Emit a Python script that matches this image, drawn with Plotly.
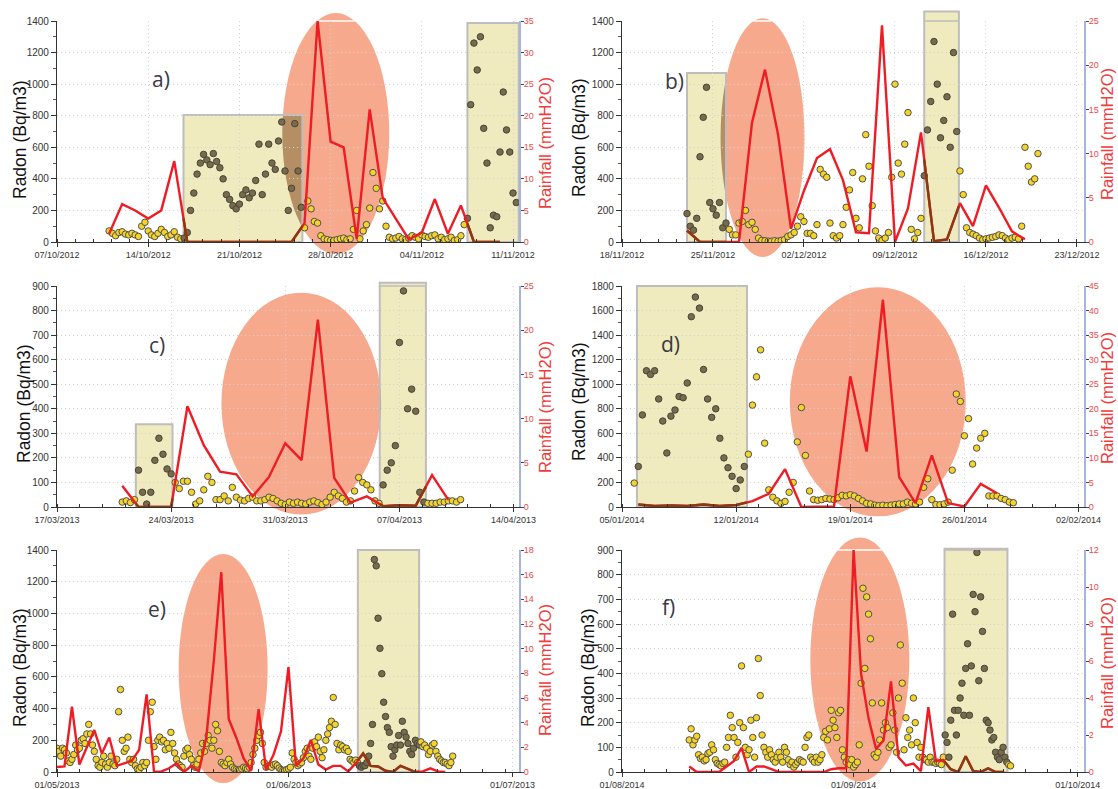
import numpy as np
import pandas as pd
import plotly.graph_objects as go

# ---------------- DATA ----------------
# Radon (Bq/m3), 6-hourly samples
radon_a_start = "2012-10-11 00:00"
radon_a = [70, 55, 40, 60, 65, 50, 45, 55, 45, 35, 100, 125, 70, 45, 35, 55, 80, 60, 35, 45,
           65, 30, 20, 25, 60, 200, 310, 430, 500, 555, 520, 490, 560, 510, 470, 400,
           300, 270, 230, 210, 240, 300, 330, 280, 310, 390, 620, 300, 430, 620, 500, 460,
           640, 760, 450, 200, 340, 750, 450, 220, 90, 260, 210, 130, 120, 40, 20, 15,
           10, 10, 15, 20, 25, 15, 20, 80, 200, 20, 70, 110, 215, 440, 340, 210,
           260, 100, 30, 20, 25, 35, 20, 15, 25, 40, 30, 20, 45, 35, 30, 40, 45, 20, 30, 15,
           20, 30, 10, 15, 40, 110, 150, 870, 1260, 1090, 1300, 720, 500, 90, 170, 160,
           570, 950, 710, 570, 310, 250]
radon_b_start = "2012-11-23 00:00"
radon_b = [180, 100, 75, 150, 540, 790, 980, 250, 210, 170, 250, 90, 120, 80, 45, 45,
           120, 130, 200, 110, 125, 80, 25, 10, 8, 5, 5, 8, 5, 10, 15, 35, 45, 60, 100, 160,
           130, 55, 55, 40, 110, 460, 430, 410, 120, 40, 25, 40, 110, 220, 330, 440,
           150, 90, 400, 680, 480, 230, 70, 25, 10, 25, 60, 410, 1000, 500, 430, 620,
           820, 80, 20, 60, 150, 420, 710, 890, 1270, 1000, 660, 770, 920, 600, 1200, 700,
           450, 300, 90, 60, 50, 40, 25, 15, 20, 25, 30, 35, 45, 40, 25, 15, 25, 30, 20, 100,
           600, 480, 380, 400, 560]
radon_c_start = "2013-03-21 00:00"
radon_c = [20, 25, 18, 30, 150, 60, 12, 60, 190, 280, 215, 155, 135, 100, 75, 105,
           105, 60, 12, 25, 70, 125, 100, 30, 30, 45, 25, 80, 40, 28, 25, 35, 40, 25, 25, 30,
           40, 35, 25, 15, 10, 20, 15, 20, 15, 12, 20, 25, 18, 10, 20, 40, 60, 45, 35, 20,
           25, 65, 120, 100, 90, 70, 25, 15, 90, 150, 180, 250, 670, 880, 400, 480,
           390, 60, 20, 15, 15, 15, 20, 20, 25, 25, 20, 30]
radon_d_start = "2014-01-05 18:00"
radon_d = [195, 330, 750, 1110, 1080, 1110, 880, 700, 440, 740, 790, 900, 890,
           1010, 1550, 1710, 1620, 1120, 880, 730, 800, 560, 400, 320, 250, 150, 220, 330, 430,
           830, 1060, 1280, 520, 140, 80, 50, 30, 45, 120, 200, 530, 810, 420, 130, 60,
           55, 60, 70, 65, 60, 75, 95, 90, 100, 90, 70, 50, 30, 25, 15, 10, 15, 10, 15, 20,
           25, 25, 40, 30, 25, 40, 160, 230, 60, 20, 18, 25, 40, 300, 920, 860,
           580, 720, 350, 480, 560, 600, 90, 90, 90, 70, 60, 40, 35]
radon_e_start = "2013-05-01 00:00"
radon_e = [150, 130, 100, 150, 140, 120, 70, 60, 80, 110, 170, 140, 150, 200, 210, 180,
           240, 300, 240, 170, 130, 80, 40, 30, 60, 100, 50, 30, 60, 100, 50, 40,
           80, 380, 520, 200, 130, 150, 220, 80, 60, 80, 40, 20, 15, 30, 60, 40,
           60, 200, 380, 440, 160, 80, 200, 220, 190, 200, 140, 180, 150, 250, 180, 120,
           80, 50, 40, 30, 100, 140, 150, 110, 80, 40, 30, 50, 80, 120, 180, 130,
           180, 230, 200, 150, 200, 300, 260, 130, 60, 50, 40, 60, 80, 50, 30, 20,
           15, 10, 15, 20, 30, 25, 20, 30, 60, 110, 150, 200, 230, 250, 180, 60,
           30, 35, 40, 30, 45, 50, 40, 25, 15, 10, 10, 15, 20, 30, 120, 80,
           60, 40, 50, 60, 90, 130, 150, 100, 80, 150, 190, 160, 220, 130, 90, 140,
           200, 240, 280, 320, 470, 300, 180, 140, 170, 160, 140, 150, 130, 80, 70, 60,
           75, 60, 40, 30, 40, 40, 60, 100, 180, 300, 1340, 1300, 970, 780, 620, 440,
           350, 280, 250, 160, 100, 140, 170, 230, 170, 320, 250, 220, 180, 130, 110, 150,
           200, 180, 170, 190, 160, 170, 150, 110, 130, 170, 180, 130, 100, 80, 70, 60,
           60, 50, 40, 60, 100]
radon_f_start = "2014-08-10 00:00"
radon_f = [130, 175, 110, 130, 145, 70, 55, 60, 45, 50, 75, 80, 110, 90, 50, 35,
           30, 25, 35, 40, 100, 140, 230, 180, 140, 60, 120, 200, 430, 180, 100, 70,
           90, 210, 140, 60, 220, 460, 310, 150, 100, 80, 60, 90, 70, 50, 40, 60,
           80, 60, 40, 100, 80, 50, 30, 40, 20, 30, 40, 50, 45, 40, 100, 140,
           150, 60, 50, 40, 60, 40, 50, 70, 140, 165, 130, 175, 250, 210, 180, 140,
           240, 250, 90, 60, 40, 50, 30, 50, 20, 30, 40, 110, 360, 745, 420, 710,
           640, 540, 280, 70, 60, 80, 130, 280, 170, 200, 180, 100, 110, 240, 170, 80,
           300, 515, 360, 90, 220, 140, 170, 110, 300, 200, 120, 60, 100, 60, 50, 50,
           40, 60, 40, 40, 35, 40, 35, 30, 60, 150, 120, 60, 210, 640, 250, 150,
           250, 300, 360, 230, 420, 520, 230, 430, 720, 650, 890, 370, 710, 570, 420, 210,
           200, 170, 130, 140, 80, 60, 50, 80, 100, 60, 40, 30, 25]

# Daily rainfall (mmH2O)
rain_a_start = "2012-10-11"
rain_a = [1.3, 6.0, 5.0, 3.7, 5.0, 12.8, 0, 0, 0, 0, 0, 0, 0, 0, 0, 3.0, 35.0, 15.9, 15.0,
          0.5, 21.0, 7.0, 3.8, 0.4, 1.5, 6.8, 1.3, 5.8, 0, 0, 0]
rain_b_start = "2012-11-23"
rain_b = [1.3, 0, 0, 0, 0, 13.5, 19.5, 12.2, 1.5, 5.8, 9.5, 10.5, 7.0, 1.1, 1.0, 24.5, 0,
          3.8, 12.4, 0.1, 0.3, 4.4, 1.8, 6.4, 3.9, 1.2, 0.3]
rain_c_start = "2013-03-21"
rain_c = [2.4, 0, 0, 0, 11.4, 7.0, 4.0, 3.7, 1.2, 3.4, 7.2, 5.3, 21.2, 3.3, 0.5, 1.2,
          0.1, 0.2, 0.15, 3.6, 0.8]
rain_d_start = "2014-01-06"
rain_d = [0.5, 0.2, 0.3, 0.2, 0.5, 0.2, 0.4, 1.2, 2.7, 7.7, 0, 0, 0.1, 26.6, 11.3, 42.2,
          6.1, 0.8, 10.5, 0.8, 0.1, 4.7, 2.8]
rain_e_start = "2013-05-01"
rain_e = [0.4, 0.45, 5.3, 0.6, 2.0, 3.4, 1.5, 2.8, 0.5, 0.7, 0.9, 1.8, 6.3, 0, 0.05, 0.3,
          0.7, 0, 0.5, 0.05, 2.8, 9.0, 16.2, 4.3, 2.8, 1.1, 0.1, 5.1, 0.2, 1.4, 3.3, 8.5,
          0.5, 1.1, 2.6, 0.6, 0.2, 0.5, 0.5, 0.05, 0.7, 1.5, 0.5, 0.45, 0.1, 0, 0.5, 0.25,
          0, 0.05, 0.3, 0.05, 0]
rain_f_start = "2014-08-10"
rain_f = [0.3, 0, 0, 0, 0, 0.3, 0.6, 1.3, 0, 0.3, 0.3, 0.15, 0, 0, 0, 0, 0, 0, 0, 0.15,
          0.2, 0.2, 12.0, 5.3, 2.9, 1.25, 1.7, 4.9, 0.8, 0.35, 0.45, 0.05, 3.5, 0.6, 0.65,
          0.15, 0, 0.85, 0.05, 0, 0.2, 0, 0]

panel_labels = ["a)", "b)", "c)", "d)", "e)", "f)"]
left_title = "Radon (Bq/m3)"
right_title = "Rainfall (mmH2O)"

# ---------------- PANEL SETTINGS (ranges, highlight regions, title pixel spots) ----------------
DAY = 86400000
WEEK = 7 * DAY
panels = [
    dict(radon=radon_a, rs=radon_a_start, rain=rain_a, ps=rain_a_start,
         x0="2012-10-07", x1="2012-11-11 11:00", dtick=WEEK, mdtick=WEEK / 5,
         ymax=1400, ydt=200, rmax=35, rdt=5, lab=("2012-10-15 00:00", 1030),
         lt=(20, 140), rtl=(545, 143),
         ell=[("2012-10-24 07:00", "2012-11-01 12:00", -75, 1450)],
         rect=[("2012-10-16 17:00", "2012-10-25 20:00", 805),
               ("2012-11-07 12:00", "2012-11-11 10:30", 1387)]),
    dict(radon=radon_b, rs=radon_b_start, rain=rain_b, ps=rain_b_start,
         x0="2012-11-18", x1="2012-12-23 13:00", dtick=WEEK, mdtick=WEEK / 5,
         ymax=1400, ydt=200, rmax=25, rdt=5, lab=("2012-11-22 00:00", 1020),
         lt=(579, 138), rtl=(1107, 134),
         ell=[("2012-11-25 14:00", "2012-12-02 01:00", -95, 1417)],
         rect=[("2012-11-23 00:00", "2012-11-26 00:00", 1070),
               ("2012-12-11 06:00", "2012-12-13 22:00", 1460)]),
    dict(radon=radon_c, rs=radon_c_start, rain=rain_c, ps=rain_c_start,
         x0="2013-03-17", x1="2013-04-14 08:00", dtick=WEEK, mdtick=WEEK / 5,
         ymax=900, ydt=100, rmax=25, rdt=5, lab=("2013-03-23 03:00", 660),
         lt=(24, 404), rtl=(545, 407),
         ell=[("2013-03-27 02:00", "2013-04-05 21:00", -31, 873)],
         rect=[("2013-03-21 20:00", "2013-03-24 02:00", 337),
               ("2013-04-05 19:00", "2013-04-08 15:00", 913)]),
    dict(radon=radon_d, rs=radon_d_start, rain=rain_d, ps=rain_d_start,
         x0="2014-01-05", x1="2014-02-02 08:00", dtick=WEEK, mdtick=WEEK / 5,
         ymax=1800, ydt=200, rmax=45, rdt=5, lab=("2014-01-08 00:00", 1330),
         lt=(579, 402), rtl=(1107, 398),
         ell=[("2014-01-15 07:00", "2014-01-26 02:00", -76, 1789)],
         rect=[("2014-01-05 22:00", "2014-01-12 16:00", 1800)]),
    dict(radon=radon_e, rs=radon_e_start, rain=rain_e, ps=rain_e_start,
         x0="2013-05-01", x1="2013-07-01 21:00", dtick="M1", mdtick=3 * DAY,
         ymax=1400, ydt=200, rmax=18, rdt=2, lab=("2013-05-14 08:00", 1027),
         lt=(20, 668), rtl=(545, 670),
         ell=[("2013-05-17 07:00", "2013-05-29 05:00", -70, 1375)],
         rect=[("2013-06-10 07:00", "2013-06-18 12:00", 1400)]),
    dict(radon=radon_f, rs=radon_f_start, rain=rain_f, ps=rain_f_start,
         x0="2014-08-01", x1="2014-10-01 20:00", dtick="M1", mdtick=3 * DAY,
         ymax=900, ydt=100, rmax=12, rdt=2, lab=("2014-08-07 05:00", 669),
         lt=(588, 668), rtl=(1107, 663),
         ell=[("2014-08-26 05:00", "2014-09-08 11:00", -39, 951)],
         rect=[("2014-09-13 04:00", "2014-09-21 14:00", 905)]),
]

W, H = 1118, 789
cols = [(57, 519), (622, 1084)]
rows = [(21, 242), (286, 507), (550, 772)]

YELLOW = "#f5d42a"
OLIVE = "#776b4b"
RED = "#ee1c25"
BROWN = "#8a3a12"
SALMON = "#f6a98c"
KHAKI = "#f0ebbe"
OVERLAP = "#b58f63"
GRID = "#d2d2d2"
FONT = "Liberation Sans"


def clip_poly(poly, xmin, xmax, ymin, ymax):
    def clip(pts, inside, inter):
        out = []
        if not pts:
            return out
        prev = pts[-1]
        for cur in pts:
            if inside(cur):
                if not inside(prev):
                    out.append(inter(prev, cur))
                out.append(cur)
            elif inside(prev):
                out.append(inter(prev, cur))
            prev = cur
        return out

    def ix(xc):
        return lambda p, q: (xc, p[1] + (q[1] - p[1]) * (xc - p[0]) / (q[0] - p[0]))

    def iy(yc):
        return lambda p, q: (p[0] + (q[0] - p[0]) * (yc - p[1]) / (q[1] - p[1]), yc)

    pts = clip(poly, lambda p: p[0] >= xmin, ix(xmin))
    pts = clip(pts, lambda p: p[0] <= xmax, ix(xmax))
    pts = clip(pts, lambda p: p[1] >= ymin, iy(ymin))
    pts = clip(pts, lambda p: p[1] <= ymax, iy(ymax))
    return pts


def ms(t):
    return pd.Timestamp(t).value / 1e6


fig = go.Figure()
shapes = []
annotations = []
layout = {}

for i, p in enumerate(panels):
    n = i + 1
    xid = "x" if n == 1 else f"x{n}"
    xkey = "xaxis" if n == 1 else f"xaxis{n}"
    ln, rn = 2 * i + 1, 2 * i + 2
    ylid = "y" if ln == 1 else f"y{ln}"
    ylkey = "yaxis" if ln == 1 else f"yaxis{ln}"
    yrid, yrkey = f"y{rn}", f"yaxis{rn}"
    r, c = divmod(i, 2)
    xd = [cols[c][0] / W, cols[c][1] / W]
    yd = [1 - rows[r][1] / H, 1 - rows[r][0] / H]

    X0, X1 = ms(p["x0"]), ms(p["x1"])

    def fx(t):
        return (ms(t) - X0) / (X1 - X0)

    ymax = p["ymax"]

    # radon points
    rt = pd.date_range(p["rs"], periods=len(p["radon"]), freq="6h")
    rtm = np.array([t.value / 1e6 for t in rt])
    inrect = np.zeros(len(rt), dtype=bool)
    for (a, b, top) in p["rect"]:
        inrect |= (rtm >= ms(a)) & (rtm <= ms(b))
    fill = [OLIVE if f else YELLOW for f in inrect]
    edge = ["#48443a" if f else "#505050" for f in inrect]
    fig.add_trace(go.Scatter(x=rt, y=p["radon"], mode="markers", xaxis=xid, yaxis=ylid,
                             marker=dict(size=6.5, color=fill, line=dict(color=edge, width=1)),
                             showlegend=False, hoverinfo="skip"))

    # rainfall line
    pt = pd.date_range(p["ps"], periods=len(p["rain"]), freq="D")
    ptm = np.array([t.value / 1e6 for t in pt])
    fig.add_trace(go.Scatter(x=pt, y=p["rain"], mode="lines", xaxis=xid, yaxis=yrid,
                             line=dict(color=RED, width=2.4), showlegend=False, hoverinfo="skip"))
    for (a, b, top) in p["rect"]:
        ra, rb = ms(a), ms(b)
        lo, hi = max(ra, ptm[0]), min(rb, ptm[-1])
        if lo >= hi:
            continue
        xs = [lo] + list(ptm[(ptm > lo) & (ptm < hi)]) + [hi]
        ys = np.interp(xs, ptm, np.array(p["rain"], dtype=float))
        fig.add_trace(go.Scatter(x=pd.to_datetime(xs, unit="ms"), y=ys, mode="lines",
                                 xaxis=xid, yaxis=yrid, line=dict(color=BROWN, width=2.4),
                                 showlegend=False, hoverinfo="skip"))

    # highlight shapes (domain coordinates)
    xr, yr = f"{xid} domain", f"{ylid} domain"
    for (a, b, y0, y1) in p["ell"]:
        shapes.append(dict(type="circle", xref=xr, yref=yr, x0=fx(a), x1=fx(b),
                           y0=y0 / ymax, y1=y1 / ymax, fillcolor=SALMON, line=dict(width=0),
                           layer="below"))
    for (a, b, top) in p["rect"]:
        shapes.append(dict(type="rect", xref=xr, yref=yr, x0=fx(a), x1=fx(b), y0=0,
                           y1=top / ymax, fillcolor=KHAKI, line=dict(width=0), layer="below"))
    for (ea, eb, ey0, ey1) in p["ell"]:
        cx, cy = (fx(ea) + fx(eb)) / 2, (ey0 + ey1) / 2 / ymax
        ax_, by_ = (fx(eb) - fx(ea)) / 2, (ey1 - ey0) / 2 / ymax
        th = np.linspace(0, 2 * np.pi, 240, endpoint=False)
        poly = [(cx + ax_ * np.cos(t), cy + by_ * np.sin(t)) for t in th]
        for (a, b, top) in p["rect"]:
            pts = clip_poly(poly, fx(a), fx(b), 0, top / ymax)
            if len(pts) > 2:
                path = "M " + " L ".join(f"{u:.5f},{v:.5f}" for u, v in pts) + " Z"
                shapes.append(dict(type="path", xref=xr, yref=yr, path=path,
                                   fillcolor=OVERLAP, line=dict(width=0), layer="below"))
        if ey1 > ymax:
            dx = ax_ * np.sqrt(max(0.0, 1 - ((1 - cy) / by_) ** 2))
            shapes.append(dict(type="line", xref=xr, yref=yr, x0=cx - dx, x1=cx + dx, y0=1, y1=1,
                               line=dict(color="white", width=1.5), layer="below"))
    for (a, b, top) in p["rect"]:
        shapes.append(dict(type="rect", xref=xr, yref=yr, x0=fx(a), x1=fx(b), y0=0,
                           y1=top / ymax, fillcolor="rgba(0,0,0,0)",
                           line=dict(color="#bdbdbd", width=2), layer="below"))
        if top > ymax:
            shapes.append(dict(type="line", xref=xr, yref=yr, x0=fx(a), x1=fx(b), y0=1, y1=1,
                               line=dict(color="#bdbdbd", width=1.5), layer="below"))

    annotations.append(dict(text=panel_labels[i], x=p["lab"][0], y=p["lab"][1], xref=xid,
                            yref=ylid, showarrow=False,
                            font=dict(family="Open Sans", size=21, color="#3a3a44")))
    annotations.append(dict(text=left_title, x=p["lt"][0] / W, y=1 - p["lt"][1] / H,
                            xref="paper", yref="paper", textangle=-90, showarrow=False,
                            xanchor="center", yanchor="middle",
                            font=dict(family=FONT, size=17.5, color="#111111")))
    annotations.append(dict(text=right_title, x=p["rtl"][0] / W, y=1 - p["rtl"][1] / H,
                            xref="paper", yref="paper", textangle=-90, showarrow=False,
                            xanchor="center", yanchor="middle",
                            font=dict(family=FONT, size=16.5, color="#f03c3c")))

    layout[xkey] = dict(type="date", range=[p["x0"], p["x1"]], domain=xd, anchor=ylid,
                        automargin=False,
                        tick0=p["x0"], dtick=p["dtick"], tickformat="%d/%m/%Y",
                        showline=True, linecolor="#333333", linewidth=1.2, ticks="outside",
                        ticklen=4, tickcolor="#333333",
                        tickfont=dict(family=FONT, size=9, color="#333333"),
                        showgrid=True, gridcolor=GRID, griddash="1px,3px", gridwidth=1,
                        zeroline=False,
                        minor=dict(ticks="inside", ticklen=3, dtick=p["mdtick"], tick0=p["x0"],
                                   tickcolor="#333333", showgrid=False))
    layout[ylkey] = dict(domain=yd, anchor=xid, range=[0, ymax], dtick=p["ydt"], tick0=0,
                         automargin=False,
                         showline=True, linecolor="#333333", linewidth=1.2, ticks="outside",
                         ticklen=5, tickcolor="#333333",
                         tickfont=dict(family=FONT, size=10, color="#333333"),
                         showgrid=True, gridcolor=GRID, griddash="1px,3px", gridwidth=1,
                         zeroline=False,
                         minor=dict(ticks="outside", ticklen=3, dtick=p["ydt"] / 2,
                                    tickcolor="#555555", showgrid=False))
    layout[yrkey] = dict(overlaying=ylid, side="right", anchor=xid, range=[0, p["rmax"]],
                         automargin=False,
                         dtick=p["rdt"], tick0=0, showgrid=False, zeroline=False,
                         showline=True, linecolor="#a9b3dc", linewidth=2, ticks="outside",
                         ticklen=3, tickcolor="#2f43a0", ticklabelstandoff=-2,
                         tickfont=dict(family=FONT, size=9, color="#f04848"))

fig.update_layout(template="none", width=W, height=H, margin=dict(l=0, r=0, t=0, b=0),
                  autosize=False,
                  paper_bgcolor="white", plot_bgcolor="rgba(0,0,0,0)", showlegend=False,
                  shapes=shapes, annotations=annotations, font=dict(family=FONT),
                  **layout)

fig.write_html("out.html")
